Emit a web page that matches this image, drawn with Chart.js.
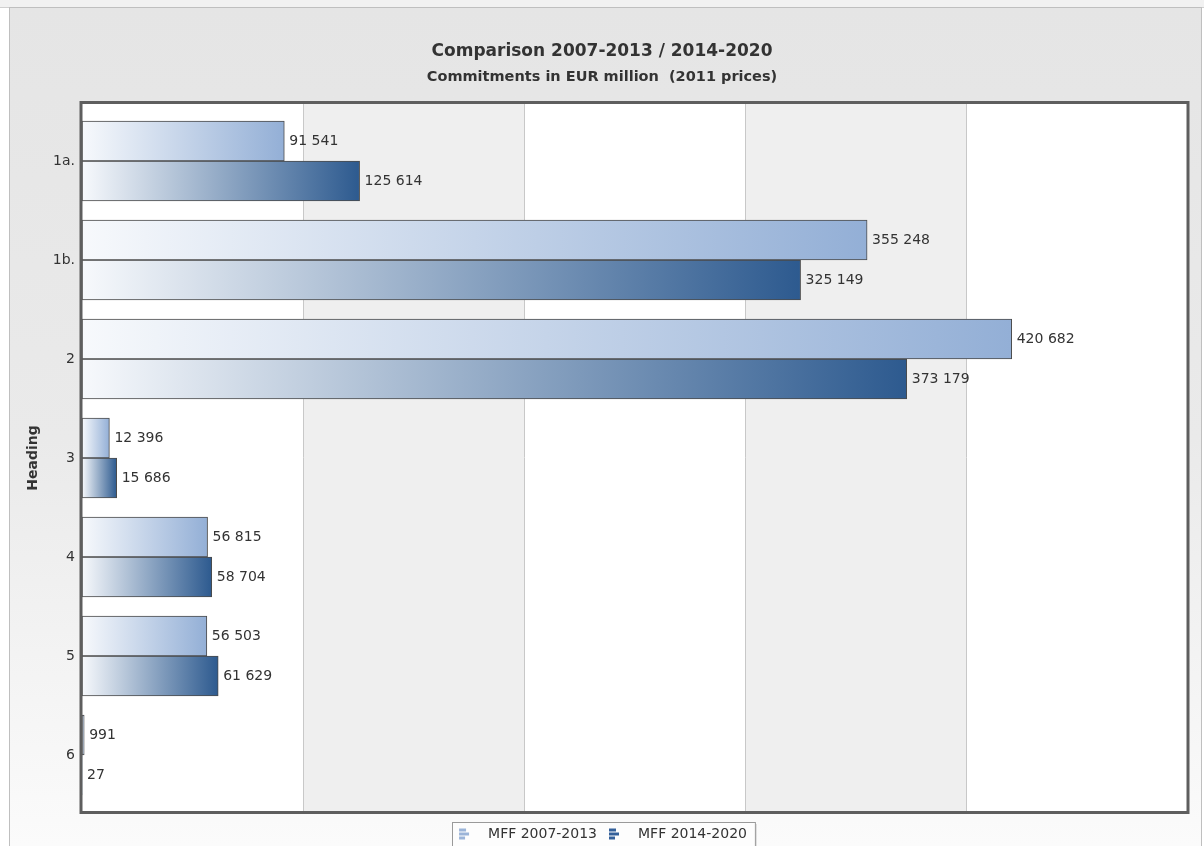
<!DOCTYPE html>
<html>
<head>
<meta charset="utf-8">
<script src="https://cdn.jsdelivr.net/npm/chart.js@4"></script>
<style>
  html, body { margin: 0; padding: 0; width: 1204px; height: 846px; overflow: hidden; background: #ffffff; }
  #strip { position: absolute; left: 0; top: 0; width: 1204px; height: 7px; background: #f1f1f1; border-bottom: 1px solid #cfcfcf; }
  #panel { position: absolute; left: 9px; top: 7px; width: 1191px; height: 860px; border: 1px solid #bfbfbf;
           background: linear-gradient(to bottom, #e5e5e5 0%, #eaeaea 50%, #fcfcfc 100%); }
  #wrap { position: absolute; left: 0; top: 0; width: 1204px; height: 856px; }
</style>
</head>
<body>
<div id="strip"></div>
<div id="panel"></div>
<div id="wrap"><canvas id="c" width="1204" height="856"></canvas></div>
<script>
const categories = ['1a.', '1b.', '2', '3', '4', '5', '6'];
const seriesNames = ['MFF 2007-2013', 'MFF 2014-2020'];
const mff2007 = [91541, 355248, 420682, 12396, 56815, 56503, 991];
const mff2014 = [125614, 325149, 373179, 15686, 58704, 61629, 27];
const xTicks = [0, 100000, 200000, 300000, 400000, 500000];

const startColor = '#f7f9fc';
const endColors = ['#93afd6', '#2d5a8f'];
const FONT = '"DejaVu Sans", Verdana, sans-serif';

function fmt(v) { return String(v).replace(/\B(?=(\d{3})+(?!\d))/g, ' '); }

function gradFill(endColor) {
  return function (ctx) {
    const chart = ctx.chart;
    if (!chart.chartArea || ctx.type !== 'data' || !ctx.parsed) return endColor;
    const xs = chart.scales.x;
    const x0 = xs.getPixelForValue(0);
    const x1 = xs.getPixelForValue(ctx.parsed.x);
    if (x1 - x0 < 1) return endColor;
    const g = chart.ctx.createLinearGradient(x0, 0, x1, 0);
    g.addColorStop(0, startColor);
    g.addColorStop(1, endColor);
    return g;
  };
}

function makeIcon(color) {
  const c = document.createElement('canvas');
  c.width = 24; c.height = 13;
  const g = c.getContext('2d');
  g.fillStyle = color;
  g.fillRect(2, 1, 7, 3);
  g.fillRect(2, 5, 10, 3);
  g.fillRect(2, 9, 6, 3);
  return c;
}

const bandsPlugin = {
  id: 'bands',
  beforeDatasetsDraw(chart) {
    const {ctx, chartArea: a, scales: {x}} = chart;
    const top = a.top - 9, bottom = a.bottom + 8;
    ctx.save();
    ctx.fillStyle = '#ffffff';
    ctx.fillRect(a.left - 1, top, a.right - a.left + 2, bottom - top);
    const t = x.ticks.map(k => k.value);
    for (let i = 0; i < t.length - 1; i++) {
      if (i % 2 === 1) {
        const p0 = x.getPixelForValue(t[i]), p1 = x.getPixelForValue(t[i + 1]);
        ctx.fillStyle = '#efefef';
        ctx.fillRect(p0, top, p1 - p0, bottom - top);
      }
    }
    ctx.strokeStyle = '#c8c8c8';
    ctx.lineWidth = 1;
    for (let i = 1; i < t.length - 1; i++) {
      const p = Math.round(x.getPixelForValue(t[i])) + 0.5;
      ctx.beginPath(); ctx.moveTo(p, top); ctx.lineTo(p, bottom); ctx.stroke();
    }
    ctx.restore();
  },
  afterDatasetsDraw(chart) {
    const {ctx} = chart;
    ctx.save();
    ctx.font = '14px ' + FONT;
    ctx.fillStyle = '#333333';
    ctx.textAlign = 'left';
    ctx.textBaseline = 'middle';
    chart.data.datasets.forEach((ds, i) => {
      const meta = chart.getDatasetMeta(i);
      meta.data.forEach((bar, j) => {
        ctx.fillText(fmt(ds.data[j]), bar.x + 5, bar.y);
      });
    });
    ctx.restore();
  },
  afterDraw(chart) {
    const {ctx, chartArea: a} = chart;
    ctx.save();
    ctx.strokeStyle = '#5e5e5e';
    ctx.lineWidth = 3;
    ctx.strokeRect(a.left - 1, a.top - 9, a.right - a.left + 2, a.bottom - a.top + 17);
    ctx.restore();
  },
  beforeDraw(chart) {
    const lg = chart.legend;
    if (!lg || !lg.legendHitBoxes || !lg.legendHitBoxes.length) return;
    const hb = lg.legendHitBoxes;
    const l = hb[0].left - 5;
    const r = hb[hb.length - 1].left + hb[hb.length - 1].width + 8;
    const t = lg.top + 5;
    const {ctx} = chart;
    ctx.save();
    ctx.fillStyle = 'rgba(0,0,0,0.12)';
    ctx.fillRect(Math.round(l) + 2, t + 2, r - l, 60);
    ctx.fillStyle = '#fdfdfd';
    ctx.fillRect(Math.round(l) + 0.5, t + 0.5, r - l, 60);
    ctx.strokeStyle = '#9a9a9a';
    ctx.lineWidth = 1;
    ctx.strokeRect(Math.round(l) + 0.5, t + 0.5, r - l, 60);
    ctx.restore();
  }
};

new Chart(document.getElementById('c'), {
  type: 'bar',
  data: {
    labels: categories,
    datasets: [
      { label: seriesNames[0], data: mff2007, backgroundColor: gradFill(endColors[0]),
        borderColor: '#4a4a4a', borderWidth: 1, borderSkipped: false, pointStyle: makeIcon('#9bb4d8') },
      { label: seriesNames[1], data: mff2014, backgroundColor: gradFill(endColors[1]),
        borderColor: '#4a4a4a', borderWidth: 1, borderSkipped: false, pointStyle: makeIcon('#34609a') }
    ]
  },
  options: {
    indexAxis: 'y',
    responsive: false,
    animation: false,
    maintainAspectRatio: false,
    barThickness: 40,
    layout: { padding: { left: 17, right: 17, top: 0, bottom: 5 } },
    scales: {
      x: {
        type: 'linear', min: xTicks[0], max: xTicks[xTicks.length - 1],
        ticks: { display: false, stepSize: xTicks[1] - xTicks[0] },
        grid: { display: false, drawTicks: false }, border: { display: false },
        afterFit(s) { s.height = 12.5; }
      },
      y: {
        type: 'category',
        ticks: { color: '#333333', font: { family: FONT, size: 14 }, padding: 7 },
        grid: { display: false, drawTicks: false }, border: { display: false },
        title: { display: true, text: 'Heading', color: '#333333',
                 font: { family: FONT, size: 14, weight: 'bold' }, padding: { top: 7.5, bottom: 0 } },
        afterFit(s) { s.width = 65; }
      }
    },
    plugins: {
      title: { display: true, text: 'Comparison 2007-2013 / 2014-2020', color: '#333333',
               font: { family: FONT, size: 17, weight: 'bold' }, padding: { top: 41, bottom: 5 } },
      subtitle: { display: true, text: 'Commitments in EUR million  (2011 prices)', color: '#333333',
                  font: { family: FONT, size: 14.5, weight: 'bold' }, padding: { top: 2.4, bottom: 25.3 } },
      legend: { position: 'bottom',
                labels: { usePointStyle: true, pointStyleWidth: 24, padding: 10, color: '#333333',
                          font: { family: FONT, size: 14 } } },
      tooltip: { enabled: false }
    }
  },
  plugins: [bandsPlugin]
});
</script>
</body>
</html>
